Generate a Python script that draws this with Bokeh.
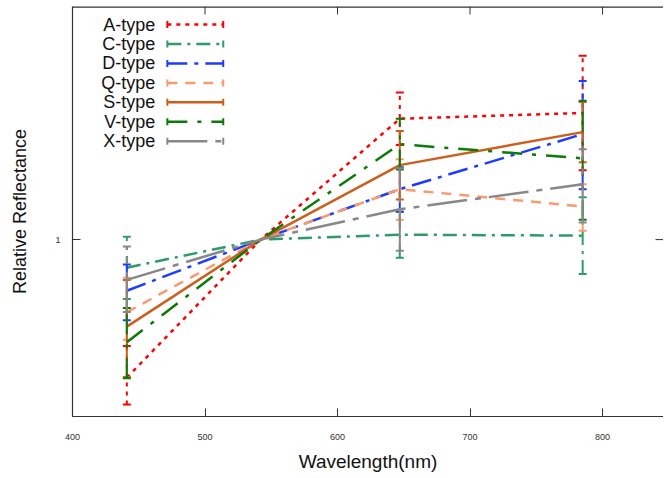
import math
from bokeh.plotting import figure
from bokeh.models import Range1d, FixedTicker, BasicTickFormatter
from bokeh.core.properties import value
from bokeh.embed import file_html
from bokeh.resources import INLINE

# ---------------- data ----------------
wavelengths = [441, 542, 647, 785]
err_wavelengths = [441, 647, 785]
x_ticks = [400, 500, 600, 700, 800]
y_ticks = [1]

types = ["A-type", "C-type", "D-type", "Q-type", "S-type", "V-type", "X-type"]

a_vals = [0.757, 1.0, 1.276, 1.291]
a_lo = [0.717, 1.210, 1.150]
a_hi = [0.807, 1.345, 1.449]

c_vals = [0.945, 1.0, 1.010, 1.008]
c_lo = [0.887, 0.964, 0.933]
c_hi = [1.006, 1.058, 1.089]

d_vals = [0.902, 1.0, 1.107, 1.237]
d_lo = [0.850, 1.058, 1.107]
d_hi = [0.951, 1.157, 1.377]

q_vals = [0.864, 1.0, 1.107, 1.069]
q_lo = [0.817, 1.041, 1.018]
q_hi = [0.926, 1.176, 1.118]

s_vals = [0.839, 1.0, 1.162, 1.242]
s_lo = [0.758, 1.084, 1.169]
s_hi = [0.922, 1.245, 1.320]

v_vals = [0.813, 1.0, 1.212, 1.178]
v_lo = [0.756, 1.152, 1.041]
v_hi = [0.871, 1.276, 1.323]

x_vals = [0.922, 1.0, 1.063, 1.118]
x_lo = [0.864, 0.978, 1.035]
x_hi = [0.986, 1.155, 1.200]

series_vals = [a_vals, c_vals, d_vals, q_vals, s_vals, v_vals, x_vals]
series_lo = [a_lo, c_lo, d_lo, q_lo, s_lo, v_lo, x_lo]
series_hi = [a_hi, c_hi, d_hi, q_hi, s_hi, v_hi, x_hi]

# ---------------- styles ----------------
colors = ["#ff0000", "#2f9a6a", "#1e3cff", "#fa9a70", "#cc5f1c", "#0b7a0b", "#888888"]
dashes = ["4 5", "14 6 3 6", "20 7 4 7", "10 8", "solid", "20 10 4 10", "40 8 6 8"]

FONT = "Liberation Sans"
X0, X1 = 400, 846.0
Y0, Y1 = 0.7, 1.6

# frame position in picture pixels
FR_L, FR_R, FR_T, FR_B = 73, 665, 7, 416
TICK_LEN = 8
FRAME_COLOR = "#333333"


def px_x(px):
    return X0 + (px - FR_L) * (X1 - X0) / (FR_R - FR_L)


def px_y(py):
    lt, lb = math.log10(Y1), math.log10(Y0)
    return 10 ** (lt - (py - FR_T) * (lt - lb) / (FR_B - FR_T))


p = figure(width=663, height=474, output_backend="svg", toolbar_location=None,
           x_range=Range1d(X0, X1), y_range=Range1d(Y0, Y1), y_axis_type="log",
           min_border_left=72, min_border_right=0, min_border_top=6, min_border_bottom=56)
p.xgrid.visible = False
p.ygrid.visible = False
p.outline_line_color = None
p.background_fill_color = "white"
p.border_fill_color = "white"

xa = p.xaxis[0]
xa.ticker = FixedTicker(ticks=x_ticks)
xa.major_tick_in = TICK_LEN
xa.major_tick_out = 0
xa.minor_tick_line_color = None
xa.axis_line_color = FRAME_COLOR
xa.axis_line_width = 1.2
xa.major_tick_line_color = FRAME_COLOR
xa.major_label_text_font = FONT
xa.major_label_text_font_size = "9px"
xa.major_label_text_color = "#333333"
xa.major_label_standoff = 17
xa.axis_label = "Wavelength(nm)"
xa.axis_label_text_font = FONT
xa.axis_label_text_font_size = "19px"
xa.axis_label_text_font_style = "normal"
xa.axis_label_text_color = "#111111"
xa.axis_label_standoff = 8

ya = p.yaxis[0]
ya.ticker = FixedTicker(ticks=y_ticks)
ya.formatter = BasicTickFormatter()
ya.major_tick_in = TICK_LEN
ya.major_tick_out = 0
ya.minor_tick_line_color = None
ya.axis_line_color = FRAME_COLOR
ya.axis_line_width = 1.2
ya.major_tick_line_color = FRAME_COLOR
ya.major_label_text_font = FONT
ya.major_label_text_font_size = "9px"
ya.major_label_text_color = "#333333"
ya.major_label_standoff = 12
ya.axis_label = "Relative Reflectance"
ya.axis_label_text_font = FONT
ya.axis_label_text_font_size = "18px"
ya.axis_label_text_font_style = "normal"
ya.axis_label_text_color = "#111111"
ya.axis_label_standoff = 22

# top frame edge and mirrored tick marks on the top and right edges (gnuplot style)
p.segment(x0=[X0], y0=[Y1], x1=[X1], y1=[Y1], line_color=FRAME_COLOR, line_width=2.4)
p.segment(x0=x_ticks, y0=[px_y(FR_T)] * len(x_ticks), x1=x_ticks,
          y1=[px_y(FR_T + TICK_LEN)] * len(x_ticks), line_color=FRAME_COLOR, line_width=1)
p.segment(x0=[px_x(FR_R)] * len(y_ticks), y0=y_ticks, x1=[px_x(FR_R - TICK_LEN)] * len(y_ticks),
          y1=y_ticks, line_color=FRAME_COLOR, line_width=1)

# ---------------- series ----------------
for vals, lo, hi, col, dash in zip(series_vals, series_lo, series_hi, colors, dashes):
    p.line(wavelengths, vals, line_color=col, line_width=2.5, line_dash=dash)
    p.segment(x0=err_wavelengths, y0=lo, x1=err_wavelengths, y1=hi,
              line_color=col, line_width=2, line_dash=dash)
    p.scatter(x=err_wavelengths + err_wavelengths, y=lo + hi, marker="dash",
              size=8, line_color=col, line_width=2)

# ---------------- key (gnuplot style: label, then sample) ----------------
LEG_TOP, LEG_STEP = 25.0, 19.4
LEG_TEXT_R, LEG_S0, LEG_S1 = 156, 168, 224
for i, (name, col, dash) in enumerate(zip(types, colors, dashes)):
    yy = px_y(LEG_TOP + i * LEG_STEP)
    p.text(x=[px_x(LEG_TEXT_R)], y=[yy], text=[name], text_align="right",
           text_baseline="middle", text_font=value(FONT), text_font_size="18px",
           text_color="#111111")
    p.segment(x0=[px_x(LEG_S0)], y0=[yy], x1=[px_x(LEG_S1)], y1=[yy],
              line_color=col, line_width=2.5, line_dash=dash)
    p.scatter(x=[px_x(LEG_S0), px_x(LEG_S1)], y=[yy, yy], marker="dash", angle=math.pi / 2,
              size=7, line_color=col, line_width=2)

open("out.html", "w").write(file_html(p, INLINE))
